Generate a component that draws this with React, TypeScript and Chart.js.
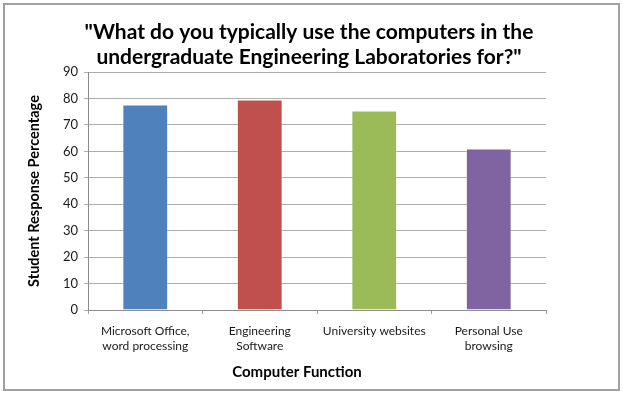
import React, { useEffect, useRef } from "react";
import { Chart, registerables } from "chart.js";

Chart.register(...registerables);

const TITLE_LINES = [
  '"What do you typically use the computers in the',
  'undergraduate Engineering Laboratories for?"',
];
const CATEGORIES = [
  ["Microsoft Office,", "word processing"],
  ["Engineering", "Software"],
  ["University websites"],
  ["Personal Use", "browsing"],
];
const VALUES = [77.7, 79.6, 75.4, 61.1];
const BAR_COLORS = ["#4F81BD", "#C0504D", "#9BBB59", "#8064A2"];
const Y_TITLE = "Student Response Percentage";
const X_TITLE = "Computer Function";
const Y_MIN = 0;
const Y_MAX = 90;
const Y_STEP = 10;

const FONT = "Lato, 'Open Sans', sans-serif";

const textPlugin = {
  id: "chartTexts",
  afterDraw(chart: any) {
    const ctx = chart.ctx;
    ctx.save();
    ctx.fillStyle = "#000000";
    ctx.textAlign = "center";
    ctx.textBaseline = "alphabetic";
    ctx.font = `bold 21px ${FONT}`;
    TITLE_LINES.forEach((line, i) => ctx.fillText(line, 309, 38.5 + i * 25));
    ctx.font = `bold 15px ${FONT}`;
    ctx.textBaseline = "middle";
    ctx.fillText(X_TITLE, 297, 372);
    ctx.restore();
  },
};

export default function App() {
  const ref = useRef<HTMLCanvasElement | null>(null);

  useEffect(() => {
    if (!ref.current) return;
    const chart = new Chart(ref.current, {
      type: "bar",
      data: {
        labels: CATEGORIES,
        datasets: [
          {
            data: VALUES,
            backgroundColor: BAR_COLORS,
            borderColor: "rgba(255,255,255,0.35)",
            borderWidth: 1,
            categoryPercentage: 0.4,
            barPercentage: 1.0,
          },
        ],
      },
      options: {
        animation: false,
        responsive: false,
        maintainAspectRatio: false,
        layout: { padding: { top: 72, left: 0, right: 77, bottom: 13 } },
        plugins: {
          legend: { display: false },
          title: { display: false },
          tooltip: { enabled: false },
        },
        scales: {
          x: {
            grid: {
              display: true,
              drawOnChartArea: false,
              drawTicks: true,
              tickLength: 4,
              color: "#a0a0a0",
              offset: true,
            },
            border: { color: "#8c8c8c", width: 1 },
            ticks: {
              color: "#1a1a1a",
              font: { family: FONT, size: 12, lineHeight: 1.25 },
              padding: 10,
              maxRotation: 0,
              autoSkip: false,
            },
            afterFit(scale: any) {
              scale.height = 71;
            },
          },
          y: {
            min: Y_MIN,
            max: Y_MAX,
            ticks: {
              stepSize: Y_STEP,
              color: "#1a1a1a",
              font: { family: FONT, size: 13 },
              padding: 6,
            },
            grid: {
              color: "#adadad",
              tickLength: 4,
              drawTicks: true,
            },
            border: { color: "#8c8c8c", width: 1 },
            title: {
              display: true,
              text: Y_TITLE,
              color: "#000000",
              font: { family: FONT, size: 14.5, weight: "bold" },
              padding: { top: 26, bottom: 0 },
            },
            afterFit(scale: any) {
              scale.width = 88;
            },
          },
        },
      },
      plugins: [textPlugin],
    });
    return () => chart.destroy();
  }, []);

  return (
    <div style={{ position: "fixed", left: 0, top: 0, width: 623, height: 394, background: "#ffffff" }}>
      <canvas ref={ref} width={623} height={394} style={{ position: "absolute", left: 0, top: 0 }} />
      <div
        style={{
          position: "absolute",
          left: 3,
          top: 3,
          width: 617,
          height: 388,
          boxSizing: "border-box",
          border: "2px solid #a0a0a0",
          pointerEvents: "none",
        }}
      />
    </div>
  );
}
